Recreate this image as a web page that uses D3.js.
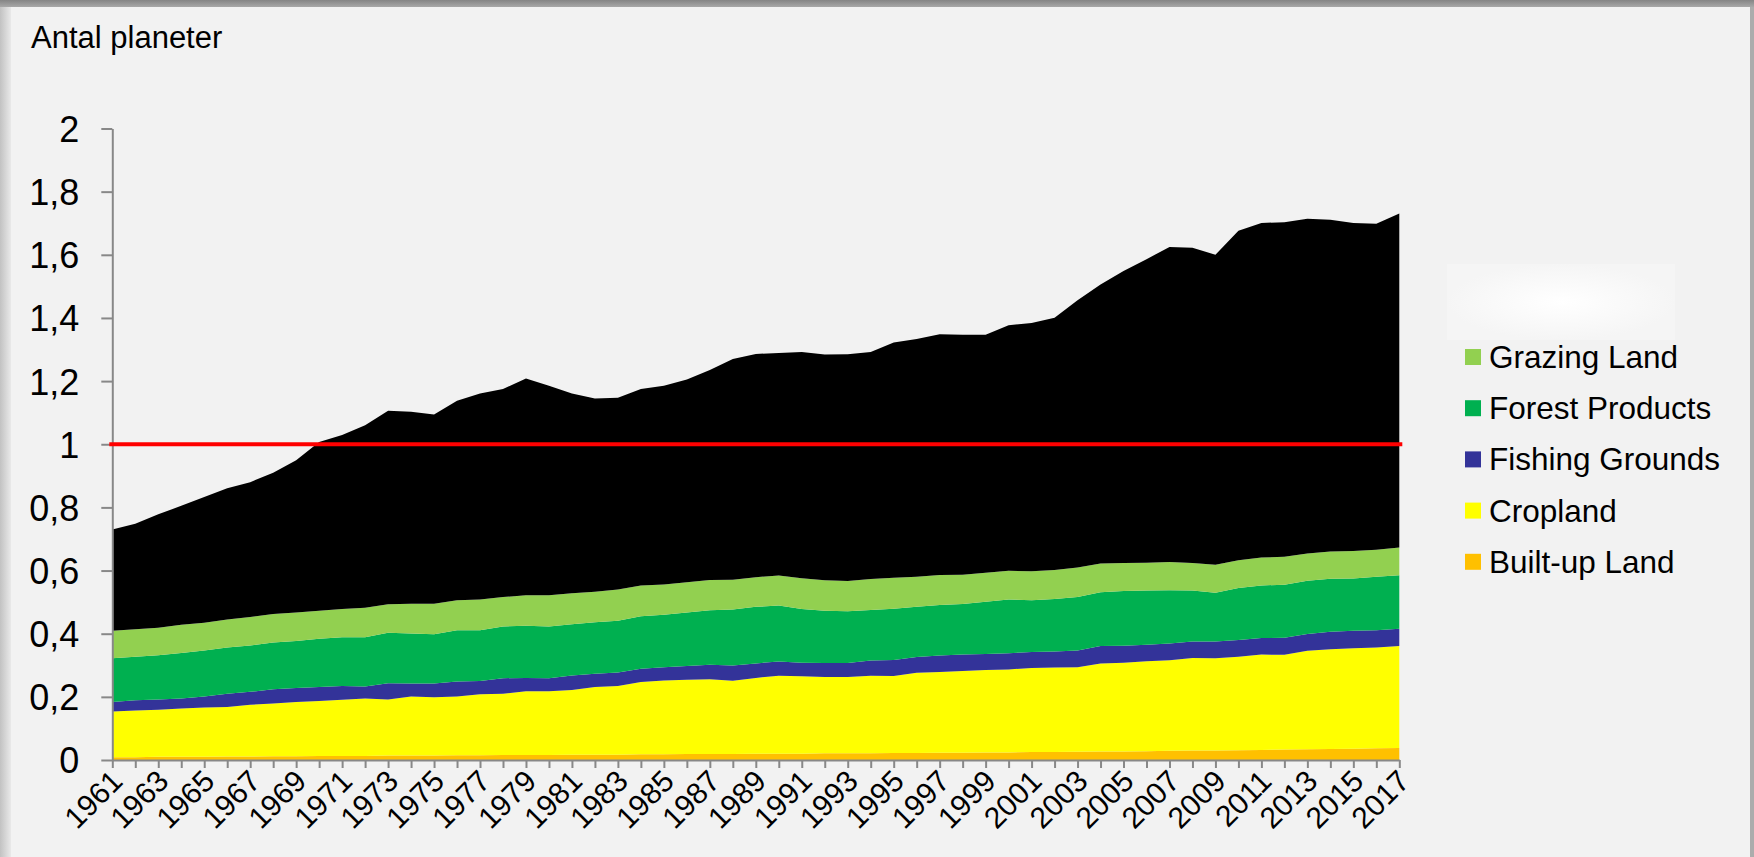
<!DOCTYPE html>
<html>
<head>
<meta charset="utf-8">
<script src="https://cdnjs.cloudflare.com/ajax/libs/d3/7.8.5/d3.min.js"></script>
<style>
  body { margin: 0; background: #f2f2f2; overflow: hidden; }
  text { font-family: Arial, "Liberation Sans", sans-serif; fill: #000; }
</style>
</head>
<body>
<div id="area-chart"></div>
<script>
// years on the x axis
var years = d3.range(1961, 2018);

// ecological footprint per component, in number of planets
var builtUp = [0.009, 0.009, 0.010, 0.010, 0.010, 0.011, 0.011, 0.012, 0.012, 0.013,
  0.013, 0.013, 0.014, 0.014, 0.014, 0.015, 0.015, 0.016, 0.016, 0.016,
  0.017, 0.017, 0.017, 0.018, 0.018, 0.019, 0.019, 0.019, 0.020, 0.020,
  0.020, 0.021, 0.021, 0.021, 0.022, 0.022, 0.023, 0.023, 0.024, 0.024,
  0.025, 0.025, 0.026, 0.027, 0.027, 0.028, 0.029, 0.030, 0.030, 0.031,
  0.032, 0.033, 0.034, 0.035, 0.036, 0.037, 0.038];

var cropland = [0.145, 0.148, 0.149, 0.153, 0.156, 0.157, 0.164, 0.167, 0.172, 0.174,
  0.178, 0.182, 0.178, 0.187, 0.185, 0.186, 0.193, 0.194, 0.202, 0.202,
  0.205, 0.214, 0.217, 0.229, 0.234, 0.235, 0.237, 0.232, 0.240, 0.247,
  0.245, 0.242, 0.242, 0.246, 0.244, 0.254, 0.256, 0.259, 0.261, 0.263,
  0.266, 0.268, 0.268, 0.279, 0.281, 0.285, 0.287, 0.293, 0.292, 0.296,
  0.302, 0.300, 0.312, 0.316, 0.318, 0.319, 0.323];

var fishing = [0.030, 0.032, 0.033, 0.032, 0.035, 0.042, 0.041, 0.045, 0.044, 0.044,
  0.043, 0.038, 0.051, 0.041, 0.043, 0.048, 0.042, 0.049, 0.042, 0.041,
  0.046, 0.042, 0.043, 0.042, 0.042, 0.044, 0.046, 0.048, 0.046, 0.045,
  0.043, 0.044, 0.044, 0.048, 0.051, 0.050, 0.052, 0.052, 0.051, 0.051,
  0.051, 0.051, 0.053, 0.055, 0.054, 0.052, 0.053, 0.052, 0.053, 0.053,
  0.052, 0.054, 0.053, 0.055, 0.055, 0.055, 0.055];

var forest = [0.138, 0.138, 0.140, 0.144, 0.146, 0.146, 0.147, 0.148, 0.149, 0.153,
  0.155, 0.156, 0.160, 0.159, 0.156, 0.162, 0.161, 0.164, 0.165, 0.164,
  0.162, 0.163, 0.164, 0.166, 0.166, 0.169, 0.172, 0.178, 0.179, 0.177,
  0.170, 0.166, 0.164, 0.160, 0.162, 0.159, 0.160, 0.160, 0.165, 0.170,
  0.164, 0.166, 0.169, 0.170, 0.173, 0.172, 0.169, 0.162, 0.155, 0.165,
  0.167, 0.168, 0.169, 0.168, 0.166, 0.169, 0.169];

var grazing = [0.087, 0.087, 0.087, 0.089, 0.088, 0.089, 0.090, 0.090, 0.090, 0.089,
  0.089, 0.093, 0.090, 0.094, 0.097, 0.095, 0.097, 0.093, 0.097, 0.099,
  0.098, 0.097, 0.099, 0.098, 0.096, 0.096, 0.096, 0.094, 0.094, 0.095,
  0.098, 0.096, 0.096, 0.098, 0.098, 0.095, 0.095, 0.093, 0.092, 0.091,
  0.092, 0.092, 0.094, 0.091, 0.089, 0.088, 0.089, 0.087, 0.088, 0.088,
  0.088, 0.089, 0.086, 0.086, 0.087, 0.086, 0.088];

var carbon = [0.321, 0.334, 0.359, 0.377, 0.398, 0.416, 0.427, 0.448, 0.482, 0.534,
  0.551, 0.578, 0.613, 0.608, 0.599, 0.632, 0.653, 0.659, 0.686, 0.663,
  0.633, 0.612, 0.607, 0.622, 0.629, 0.642, 0.665, 0.699, 0.707, 0.705,
  0.716, 0.715, 0.718, 0.719, 0.745, 0.753, 0.762, 0.760, 0.754, 0.778,
  0.786, 0.799, 0.846, 0.884, 0.925, 0.961, 0.998, 0.998, 0.982, 1.043,
  1.060, 1.059, 1.060, 1.051, 1.039, 1.032, 1.058];

var yTicks = [0, 0.2, 0.4, 0.6, 0.8, 1, 1.2, 1.4, 1.6, 1.8, 2];

// stacking order, bottom first
var seriesKeys = ["Built-up Land", "Cropland", "Fishing Grounds", "Forest Products", "Grazing Land", "Carbon"];
var seriesValues = [builtUp, cropland, fishing, forest, grazing, carbon];
var seriesColors = ["#ffc000", "#ffff00", "#333399", "#00b050", "#92d050", "#000000"];
// legend lists top-down, without carbon
var legendKeys = ["Grazing Land", "Forest Products", "Fishing Grounds", "Cropland", "Built-up Land"];


function AreaChart(){
  var self = this;
  self.rows = years.map(function(yr, i){
    var row = {year: yr};
    seriesKeys.forEach(function(k, j){ row[k] = seriesValues[j][i]; });
    return row;
  });
  self.init();
}

AreaChart.prototype.init = function(){
  var self = this;
  self.width = 1754;
  self.height = 857;
  self.plot = {left: 112.3, right: 1399.3, top: 128.5, bottom: 760};

  self.svg = d3.select("#area-chart").append("svg")
    .attr("width", self.width)
    .attr("height", self.height);

  self.x = d3.scaleLinear().domain([1961, 2017]).range([self.plot.left, self.plot.right]);
  self.y = d3.scaleLinear().domain([0, 2]).range([self.plot.bottom, self.plot.top]);
  self.color = d3.scaleOrdinal().domain(seriesKeys).range(seriesColors);
};

AreaChart.prototype.update = function(){
  var self = this;
  var svg = self.svg;
  var defs = svg.append("defs");

  //frame shadows round the slide
  var top = defs.append("linearGradient").attr("id", "topShade").attr("x1", 0).attr("y1", 0).attr("x2", 0).attr("y2", 1);
  top.append("stop").attr("offset", "0%").attr("stop-color", "#858585");
  top.append("stop").attr("offset", "100%").attr("stop-color", "#a8a8a8");
  var left = defs.append("linearGradient").attr("id", "leftShade");
  left.append("stop").attr("offset", "0%").attr("stop-color", "#c2c2c2");
  left.append("stop").attr("offset", "100%").attr("stop-color", "#e9e9e9");
  var glow = defs.append("radialGradient").attr("id", "glow");
  glow.append("stop").attr("offset", "0%").attr("stop-color", "#ffffff");
  glow.append("stop").attr("offset", "100%").attr("stop-color", "#f5f5f5");

  svg.append("rect").attr("width", self.width).attr("height", self.height).attr("fill", "#f2f2f2");
  svg.append("rect").attr("x", 0).attr("y", 0).attr("width", 11).attr("height", self.height).attr("fill", "url(#leftShade)");
  svg.append("rect").attr("x", 1750).attr("y", 0).attr("width", 4).attr("height", self.height).attr("fill", "#acacac");
  svg.append("rect").attr("x", 0).attr("y", 0).attr("width", self.width).attr("height", 7).attr("fill", "url(#topShade)");

  // stacked areas
  var stack = d3.stack().keys(seriesKeys);
  var layers = stack(self.rows);
  var area = d3.area()
    .x(function(d){ return self.x(d.data.year); })
    .y0(function(d){ return self.y(d[0]); })
    .y1(function(d){ return self.y(d[1]); });

  svg.selectAll(".layer")
    .data(layers)
    .enter()
    .append("path")
    .attr("class", "layer")
    .attr("d", area)
    .attr("fill", function(d){ return self.color(d.key); });

  // y axis
  var yAxis = d3.axisLeft(self.y)
    .tickValues(yTicks)
    .tickSize(11)
    .tickSizeOuter(0)
    .tickPadding(22)
    .tickFormat(function(d){ return d % 1 === 0 ? String(d) : d.toFixed(1).replace(".", ","); });
  var gy = svg.append("g")
    .attr("transform", "translate(" + self.plot.left + ",0)")
    .call(yAxis);
  gy.selectAll("text").style("font-size", "36px").attr("dy", "0.36em");

  // x axis, a tick per year and a label every second year
  var xAxis = d3.axisBottom(self.x)
    .tickValues(years)
    .tickSize(8)
    .tickSizeOuter(0)
    .tickFormat("");
  var gx = svg.append("g")
    .attr("transform", "translate(0," + self.plot.bottom + ")")
    .call(xAxis);

  [gx, gy].forEach(function(g){
    g.select(".domain").attr("stroke", "#888888").attr("stroke-width", 2);
    g.selectAll(".tick line").attr("stroke", "#888888").attr("stroke-width", 2);
  });

  svg.selectAll(".xlabel")
    .data(years.filter(function(d){ return (d - 1961) % 2 === 0; }))
    .enter()
    .append("text")
    .attr("class", "xlabel")
    .attr("text-anchor", "end")
    .attr("transform", function(d){
      return "translate(" + (self.x(d) + 12) + "," + (self.plot.bottom + 23) + ") rotate(-45)";
    })
    .style("font-size", "30px")
    .text(function(d){ return d; });

  // one planet line
  svg.append("line")
    .attr("x1", self.plot.left - 3)
    .attr("x2", self.plot.right + 3)
    .attr("y1", self.y(1))
    .attr("y2", self.y(1))
    .attr("stroke", "#ff0000")
    .attr("stroke-width", 4);

  svg.append("text")
    .attr("x", 31)
    .attr("y", 48)
    .style("font-size", "31px")
    .text("Antal planeter");

  //legend
  svg.append("rect")
    .attr("x", 1447).attr("y", 264)
    .attr("width", 228).attr("height", 76)
    .attr("fill", "url(#glow)");

  svg.selectAll(".legendSquare")
    .data(legendKeys)
    .enter()
    .append("rect")
    .attr("class", "legendSquare")
    .attr("x", 1465)
    .attr("y", function(d, i){ return 349 + i * 51.2; })
    .attr("width", 16)
    .attr("height", 16)
    .attr("fill", function(d){ return self.color(d); });

  svg.selectAll(".legend-text")
    .data(legendKeys)
    .enter()
    .append("text")
    .attr("class", "legend-text")
    .attr("x", 1489)
    .attr("y", function(d, i){ return 368 + i * 51.2; })
    .style("font-size", "31.5px")
    .text(function(d){ return d; });
};

var chart = new AreaChart();
chart.update();
</script>
</body>
</html>
